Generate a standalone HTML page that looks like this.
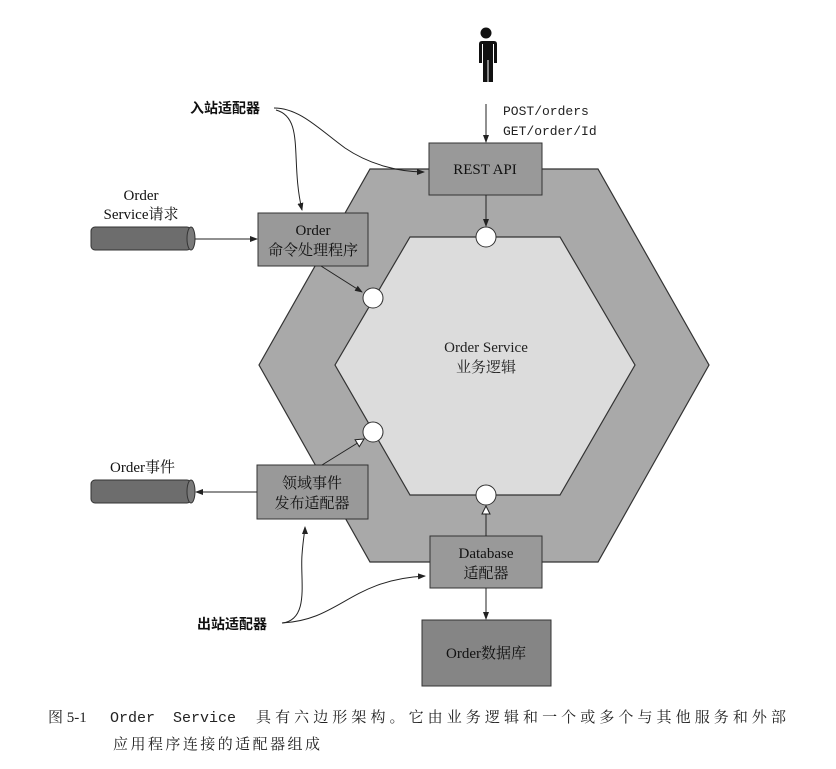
<!DOCTYPE html>
<html><head><meta charset="utf-8"><style>
html,body{margin:0;padding:0;background:#fff;}
svg{display:block}
.s{font-family:"Liberation Serif","Noto Serif CJK SC",serif;}
.c{font-family:"Liberation Sans","Noto Sans CJK SC",sans-serif;}
.m{font-family:"Liberation Mono",monospace;}
</style></head><body>
<svg width="836" height="769" viewBox="0 0 836 769" xmlns="http://www.w3.org/2000/svg">
<defs>
<marker id="a" markerWidth="8" markerHeight="8" refX="7" refY="4" orient="auto" markerUnits="userSpaceOnUse"><path d="M0,1 L8,4 L0,7 z" fill="#222"/></marker>
<marker id="h" markerWidth="10" markerHeight="10" refX="9" refY="5" orient="auto" markerUnits="userSpaceOnUse"><path d="M1,1 L9,5 L1,9 z" fill="#fff" stroke="#222" stroke-width="1"/></marker>
</defs>
<polygon points="370,169 598,169 709,365 598,562 370,562 259,365" fill="#a9a9a9" stroke="#333" stroke-width="1.2"/>
<polygon points="410,237 560,237 635,365 560,495 410,495 335,365" fill="#dcdcdc" stroke="#333" stroke-width="1.2"/>
<text class="s" x="486" y="352" font-size="15" text-anchor="middle" fill="#222">Order Service</text>
<text class="s" x="486" y="372" font-size="15" text-anchor="middle" fill="#222">业务逻辑</text>
<!-- person -->
<circle cx="486" cy="33" r="5.5" fill="#111"/>
<path d="M478,41 h16 q3,0 3,3 v19 h-3 v-19 h-1 v38 h-4.5 v-22 h-1 v22 h-4.5 v-38 h-1 v19 h-3 v-19 q0,-3 3,-3 z" fill="#111"/>
<line x1="486" y1="104" x2="486" y2="142" stroke="#222" marker-end="url(#a)"/>
<text class="m" x="503" y="115" font-size="13" fill="#222">POST/orders</text>
<text class="m" x="503" y="135" font-size="13" fill="#222">GET/order/Id</text>
<!-- boxes -->
<rect x="429" y="143" width="113" height="52" fill="#999" stroke="#333"/>
<text class="s" x="485" y="174" font-size="15" text-anchor="middle" fill="#111">REST API</text>
<rect x="258" y="213" width="110" height="53" fill="#999" stroke="#333"/>
<text class="s" x="313" y="235" font-size="15" text-anchor="middle" fill="#111">Order</text>
<text class="s" x="313" y="255" font-size="15" text-anchor="middle" fill="#111">命令处理程序</text>
<rect x="257" y="465" width="111" height="54" fill="#999" stroke="#333"/>
<text class="s" x="312" y="488" font-size="15" text-anchor="middle" fill="#111">领域事件</text>
<text class="s" x="312" y="508" font-size="15" text-anchor="middle" fill="#111">发布适配器</text>
<rect x="430" y="536" width="112" height="52" fill="#999" stroke="#333"/>
<text class="s" x="486" y="558" font-size="15" text-anchor="middle" fill="#111">Database</text>
<text class="s" x="486" y="578" font-size="15" text-anchor="middle" fill="#111">适配器</text>
<rect x="422" y="620" width="129" height="66" fill="#858585" stroke="#333"/>
<text class="s" x="486" y="658" font-size="15" text-anchor="middle" fill="#111">Order数据库</text>
<!-- ports -->
<line x1="486" y1="195" x2="486" y2="226" stroke="#222" marker-end="url(#a)"/>
<line x1="321" y1="266" x2="362" y2="292" stroke="#222" marker-end="url(#a)"/>
<line x1="322" y1="465" x2="364" y2="439" stroke="#222" marker-end="url(#h)"/>
<line x1="486" y1="536" x2="486" y2="506" stroke="#222" marker-end="url(#h)"/>
<line x1="486" y1="588" x2="486" y2="619" stroke="#222" marker-end="url(#a)"/>
<circle cx="486" cy="237" r="10" fill="#fff" stroke="#333"/>
<circle cx="373" cy="298" r="10" fill="#fff" stroke="#333"/>
<circle cx="373" cy="432" r="10" fill="#fff" stroke="#333"/>
<circle cx="486" cy="495" r="10" fill="#fff" stroke="#333"/>
<!-- cylinders -->
<rect x="91" y="227" width="100" height="23" rx="4" fill="#6d6d6d" stroke="#333"/>
<ellipse cx="191" cy="238.5" rx="4" ry="11.5" fill="#7a7a7a" stroke="#333"/>
<line x1="195" y1="239" x2="257" y2="239" stroke="#222" marker-end="url(#a)"/>
<text class="s" x="141" y="200" font-size="15" text-anchor="middle" fill="#111">Order</text>
<text class="s" x="141" y="219" font-size="15" text-anchor="middle" fill="#111">Service请求</text>
<rect x="91" y="480" width="100" height="23" rx="4" fill="#6d6d6d" stroke="#333"/>
<ellipse cx="191" cy="491.5" rx="4" ry="11.5" fill="#7a7a7a" stroke="#333"/>
<line x1="257" y1="492" x2="196" y2="492" stroke="#222" marker-end="url(#a)"/>
<text class="s" x="110" y="472" font-size="15" fill="#111">Order事件</text>
<!-- labels -->
<text class="c" x="190" y="113" font-size="14" font-weight="bold" fill="#111">入站适配器</text>
<path d="M274,108 C300,108 320,130 345,148 C370,165 400,172 424,172" fill="none" stroke="#222" marker-end="url(#a)"/>
<path d="M276,110 C305,118 290,160 302,210" fill="none" stroke="#222" marker-end="url(#a)"/>
<text class="c" x="197" y="629" font-size="14" font-weight="bold" fill="#111">出站适配器</text>
<path d="M282,623 C310,620 300,580 302,555 C303,540 305,530 305,527" fill="none" stroke="#222" marker-end="url(#a)"/>
<path d="M282,623 C340,620 350,580 425,576" fill="none" stroke="#222" marker-end="url(#a)"/>
<!-- caption -->
<text x="48" y="722" font-size="15" fill="#222" class="s">图 5-1</text>
<text x="110" y="722" font-size="15" fill="#222" class="m" xml:space="preserve">Order  Service</text>
<text x="256" y="722" font-size="15" fill="#222" class="s" textLength="530" lengthAdjust="spacing">具有六边形架构。它由业务逻辑和一个或多个与其他服务和外部</text>
<text x="113" y="749" font-size="15" fill="#222" class="s" textLength="207" lengthAdjust="spacing">应用程序连接的适配器组成</text>
</svg>
</body></html>
